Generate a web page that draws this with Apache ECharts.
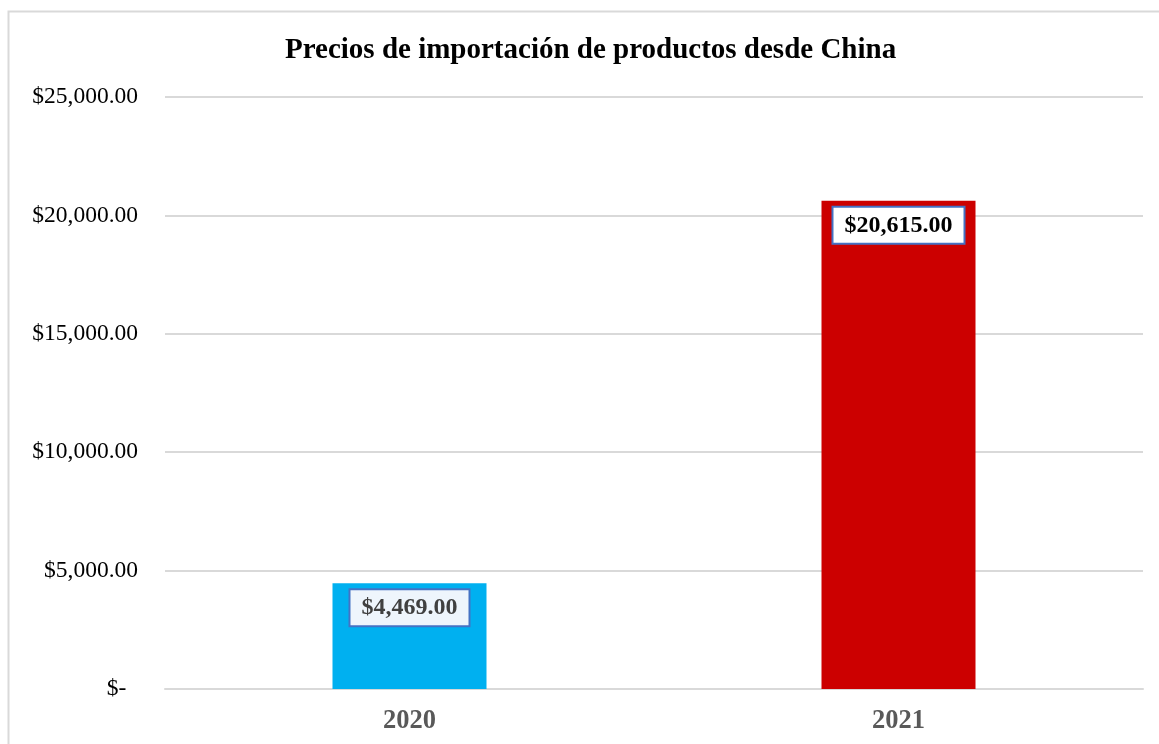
<!DOCTYPE html>
<html><head><meta charset="utf-8">
<script src="https://cdn.jsdelivr.net/npm/echarts@6/dist/echarts.min.js"></script>
<style>html,body{margin:0;padding:0;background:#fff}#c{width:1159px;height:744px}</style>
</head><body><div id="c"></div>
<script>
const categories = ['2020', '2021'];
const values = [4469, 20615];
const barColors = ['#00b0f0', '#cc0000'];
const labelColors = ['#404040', '#000000'];
const labelBgs = ['#eef5fc', '#ffffff'];
const titleText = 'Precios de importación de productos desde China';

const chart = echarts.init(document.getElementById('c'));
const fmt = v => '$' + v.toLocaleString('en-US', {minimumFractionDigits: 2, maximumFractionDigits: 2});
chart.setOption({
  animation: false,
  graphic: [{type: 'rect', left: 6, top: 9, shape: {width: 1200, height: 800},
    style: {fill: 'none', stroke: '#d9d9d9', lineWidth: 2}, silent: true, z: -1}],
  title: {text: titleText, left: 280, top: 31,
    textStyle: {fontFamily: 'Liberation Serif', fontWeight: 'bold', fontSize: 29, color: '#000'}},
  grid: {left: 165, right: 16, top: 97, bottom: 55},
  xAxis: {type: 'category', data: categories,
    axisLine: {lineStyle: {color: '#d9d9d9', width: 2}}, axisTick: {show: false},
    axisLabel: {fontFamily: 'Liberation Serif', fontWeight: 'bold', fontSize: 26.5, color: '#595959', margin: 19}},
  yAxis: {type: 'value', min: 0, max: 25000, interval: 5000,
    axisLine: {show: false}, axisTick: {show: false},
    splitLine: {lineStyle: {color: '#d9d9d9', width: 2}},
    axisLabel: {fontFamily: 'Liberation Serif', fontSize: 23.5, color: '#000', margin: 27,
      formatter: v => v === 0 ? '$-  ' : fmt(v)}},
  series: [{type: 'bar', barWidth: 154,
    data: values.map((v, i) => ({value: v, itemStyle: {color: barColors[i]},
      label: {color: labelColors[i], backgroundColor: labelBgs[i]}})),
    label: {show: true, position: 'insideTop', distance: 7, formatter: p => fmt(p.value),
      fontFamily: 'Liberation Serif', fontWeight: 'bold', fontSize: 24,
      borderColor: '#4472c4', borderWidth: 2, padding: [6, 11, 5, 11]}}]
});
</script></body></html>
